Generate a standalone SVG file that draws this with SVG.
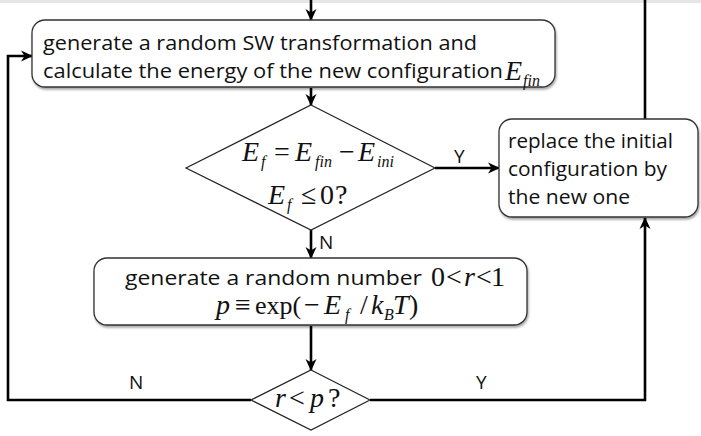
<svg xmlns="http://www.w3.org/2000/svg" width="701" height="436" viewBox="0 0 701 436">
<defs>
<style>
.box{fill:#fff;stroke:#333;stroke-width:1.3;filter:url(#sh)}
.dia{fill:#fff;stroke:#222;stroke-width:1.2}
.ln{fill:none;stroke:#000;stroke-width:2.6}
.arr{marker-end:url(#ah)}
.t{font-family:"Open Sans","Liberation Sans",sans-serif;font-size:20px;fill:#111}
.lab{font-family:"Open Sans","Liberation Sans",sans-serif;font-size:19px;fill:#111}
.m{font-family:"Liberation Serif","Times New Roman",serif;font-size:28px;fill:#111}
.mi{font-style:italic}
.sub{font-family:"Liberation Serif","Times New Roman",serif;font-style:italic;font-size:16px;fill:#111}
</style>
<filter id="sh" x="-5%" y="-10%" width="110%" height="125%">
<feDropShadow dx="1" dy="2" stdDeviation="1.2" flood-color="#000" flood-opacity="0.35"/>
</filter>
<marker id="ah" markerUnits="userSpaceOnUse" viewBox="0 0 12 12" markerWidth="12" markerHeight="12" refX="11" refY="6" orient="auto">
<path d="M0,0.5 L12,6 L0,11.5 L3.5,6 z" fill="#000"/>
</marker>
</defs>
<rect x="0" y="0" width="701" height="3" fill="#e6e6e6"/>
<g id="connectors">
<line class="ln arr" x1="311" y1="0" x2="311" y2="20"/>
<line class="ln arr" x1="311" y1="88" x2="311" y2="105"/>
<line class="ln arr" x1="435" y1="168" x2="499" y2="168"/>
<line class="ln arr" x1="311" y1="230" x2="311" y2="258"/>
<line class="ln arr" x1="311" y1="326" x2="311" y2="370"/>
<polyline class="ln arr" points="251,400 8,400 8,56 32,56"/>
<polyline class="ln arr" points="370,400 645,400 645,218"/>
<line class="ln" x1="645" y1="119" x2="645" y2="0"/>
<text class="lab" x="454" y="163">Y</text>
<text class="lab" x="319" y="249">N</text>
<text class="lab" x="129" y="389">N</text>
<text class="lab" x="476" y="389">Y</text>
</g>
<g id="generate-sw">
<rect class="box" x="32" y="20" width="523" height="67" rx="13"/>
<text class="t" x="43" y="50" textLength="434" lengthAdjust="spacingAndGlyphs">generate a random SW transformation and</text>
<text class="t" x="43" y="78" textLength="460" lengthAdjust="spacingAndGlyphs">calculate the energy of the new configuration</text>
<text class="m mi" x="505" y="80">E</text>
<text class="sub" x="523" y="86">fin</text>
</g>
<g id="decision-energy">
<polygon class="dia" points="311,105 435,168 311,230 186,168"/>
<text class="m mi" x="242" y="161">E</text>
<text class="sub" x="261" y="167">f</text>
<text class="m" x="274" y="161">=</text>
<text class="m mi" x="295" y="161">E</text>
<text class="sub" x="315" y="167">fin</text>
<text class="m" x="339" y="161">−</text>
<text class="m mi" x="358" y="161">E</text>
<text class="sub" x="377" y="167">ini</text>
<text class="m mi" x="268" y="204">E</text>
<text class="sub" x="287" y="210">f</text>
<text class="m" x="301" y="204">≤</text>
<text class="m" x="320" y="204">0</text>
<text class="m" x="335" y="204">?</text>
</g>
<g id="replace">
<rect class="box" x="499" y="119" width="199" height="98" rx="13"/>
<text class="t" x="508" y="148" textLength="165" lengthAdjust="spacingAndGlyphs">replace the initial</text>
<text class="t" x="508" y="176" textLength="159" lengthAdjust="spacingAndGlyphs">configuration by</text>
<text class="t" x="508" y="204" textLength="122" lengthAdjust="spacingAndGlyphs">the new one</text>
</g>
<g id="generate-number">
<rect class="box" x="94" y="258" width="433" height="67" rx="13"/>
<text class="t" x="125" y="285" textLength="297" lengthAdjust="spacingAndGlyphs">generate a random number</text>
<text class="m" x="431" y="286">0</text>
<text class="m" x="446" y="286">&lt;</text>
<text class="m mi" x="464" y="286">r</text>
<text class="m" x="476" y="286">&lt;</text>
<text class="m" x="491" y="286">1</text>
<text class="m mi" x="216" y="314">p</text>
<text class="m" x="235" y="314">≡</text>
<text class="m" x="255" y="314" style="font-size:26px">exp(</text>
<text class="m" x="304" y="314">−</text>
<text class="m mi" x="324" y="314">E</text>
<text class="sub" x="345" y="320">f</text>
<text class="m" x="360" y="314">/</text>
<text class="m mi" x="371" y="314">k</text>
<text class="sub" x="384" y="320">B</text>
<text class="m mi" x="393" y="314">T</text>
<text class="m" x="409" y="314">)</text>
</g>
<g id="decision-accept">
<polygon class="dia" points="311,370 370,400 311,430 251,400"/>
<text class="m mi" x="275" y="407">r</text>
<text class="m" x="289" y="407">&lt;</text>
<text class="m mi" x="310" y="407">p</text>
<text class="m" x="328" y="407">?</text>
</g>
</svg>
